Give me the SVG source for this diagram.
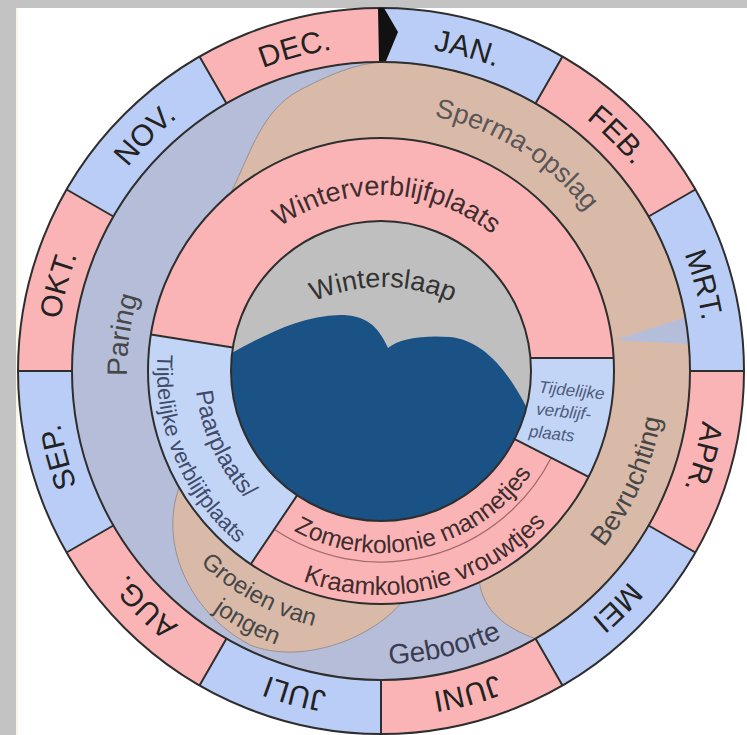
<svg xmlns="http://www.w3.org/2000/svg" width="747" height="735" viewBox="0 0 747 735">
<style>
text{font-family:"Liberation Sans",Arial,sans-serif;}
.mon{font-size:30px;fill:#222;}
.act{font-size:27px;fill:#474747;}
.inr{font-size:25px;fill:#3e2c2e;}
.blu{fill:#3f4b68;}
.ln{stroke:#2e2e2e;stroke-width:2;fill:none;}
.pink{fill:#fbb4b5;}
.mblue{fill:#bacdf6;}
.tan{fill:#d9baa9;stroke:#9c8f8d;stroke-width:1;}
</style>
<defs>
<path id="cw325" d="M381,696 A325,325 0 1 1 381,46 A325,325 0 1 1 381,696"/>
<path id="cw176" d="M381,547 A176,176 0 1 1 381,195 A176,176 0 1 1 381,547"/>
<path id="cw260" d="M381,631 A260,260 0 1 1 381,111 A260,260 0 1 1 381,631"/>
<path id="cw254" d="M381,625 A254,254 0 1 1 381,117 A254,254 0 1 1 381,625"/>
<path id="ccw284" d="M381,87 A284,284 0 1 0 381,655 A284,284 0 1 0 381,87"/>
<path id="ccw293" d="M381,78 A293,293 0 1 0 381,664 A293,293 0 1 0 381,78"/>
<path id="ccw264" d="M381,107 A264,264 0 1 0 381,635 A264,264 0 1 0 381,107"/>
<path id="ccw186" d="M381,185 A186,186 0 1 0 381,557 A186,186 0 1 0 381,185"/>
<path id="ccw224" d="M381,147 A224,224 0 1 0 381,595 A224,224 0 1 0 381,147"/>
<path id="ccw182" d="M381,189 A182,182 0 1 0 381,553 A182,182 0 1 0 381,189"/>
<path id="ws" d="M213,457 A170,170 0 0 1 553,457"/>
</defs>
<rect x="0" y="0" width="747" height="735" fill="#ffffff"/>
<rect x="0" y="0" width="747" height="8" fill="#c3c3c3"/>
<rect x="0" y="0" width="16" height="735" fill="#c3c3c3"/>
<rect x="16" y="8" width="2" height="727" fill="#fbf6e2"/>

<g id="month-ring">
<circle cx="381" cy="371" r="363" class="mblue"/>
<path class="pink" d="M562.5,56.6 A363,363 0 0 1 695.4,189.5 L648.6,216.5 A309,309 0 0 0 535.5,103.4 Z"/>
<path class="pink" d="M744,371 A363,363 0 0 1 695.4,552.5 L648.6,525.5 A309,309 0 0 0 690,371 Z"/>
<path class="pink" d="M562.5,685.4 A363,363 0 0 1 381,734 L381,680 A309,309 0 0 0 535.5,638.6 Z"/>
<path class="pink" d="M199.5,685.4 A363,363 0 0 1 66.6,552.5 L113.4,525.5 A309,309 0 0 0 226.5,638.6 Z"/>
<path class="pink" d="M18,371 A363,363 0 0 1 66.6,189.5 L113.4,216.5 A309,309 0 0 0 72,371 Z"/>
<path class="pink" d="M199.5,56.6 A363,363 0 0 1 381,8 L381,62 A309,309 0 0 0 226.5,103.4 Z"/>
</g>

<g id="activity-ring">
<circle cx="381" cy="371" r="309" fill="#b6bdd9"/>
<path id="sperma-bevruchting" class="tan" d="M231,192.5 C252,150 262,110 300,90 S360,64 381,62 A309,309 0 0 1 535.5,638.6 C505,628 483,610 479.5,582.2 A233,233 0 1 0 231,192.5 Z"/>
<path id="wedge" fill="#b4bdda" d="M615,340 L685.3,317.4 A309,309 0 0 1 688.8,344.1 Z"/>
<path id="groeien" class="tan" d="M179,488 C160,540 185,610 250,645 C300,665 370,640 401,603 A233,233 0 0 1 179,488 Z"/>
</g>

<g id="inner-ring">
<circle cx="381" cy="371" r="233" class="pink"/>
<path id="paarplaats" fill="#c3d5f7" d="M250.7,564.2 A233,233 0 0 1 150.9,334.6 L232.8,347.5 A150,150 0 0 0 297.1,495.4 Z"/>
<path id="tijdelijk" fill="#c3d5f7" d="M530.4,358 L613.6,358 A233,233 0 0 1 588.6,476.8 L514.7,439.1 A150,150 0 0 0 530.4,358 Z"/>
<path d="M551.1,458 A191,191 0 0 1 274.2,529.3" fill="none" stroke="#a46a6c" stroke-width="1.3"/>
</g>

<g id="core">
<circle cx="381" cy="371" r="150" fill="#bfbfbf"/>
<path fill="#1b5286" d="M232.1,352.7 C265,335 300,316 340,315 C365,315 378,325 388,348 C400,338 425,335 450,337 C480,340 505,365 526.5,407.3 A150,150 0 0 1 232.1,352.7 Z"/>
</g>

<g id="connectors">
<circle cx="381" cy="371" r="363" class="ln"/>
<circle cx="381" cy="371" r="309" class="ln"/>
<circle cx="381" cy="371" r="233" class="ln"/>
<circle cx="381" cy="371" r="150" class="ln"/>
<path class="ln" d="M381,8 L381,62 M562.5,56.6 L535.5,103.4 M695.4,189.5 L648.6,216.5 M744,371 L690,371 M695.4,552.5 L648.6,525.5 M562.5,685.4 L535.5,638.6 M381,734 L381,680 M199.5,685.4 L226.5,638.6 M66.6,552.5 L113.4,525.5 M18,371 L72,371 M66.6,189.5 L113.4,216.5 M199.5,56.6 L226.5,103.4"/>
<path class="ln" d="M150.9,334.6 L232.8,347.5 M530.4,358 L613.6,358 M514.7,439.1 L588.6,476.8 M297.1,495.4 L250.7,564.2"/>
<polygon points="378,8 384,8 398,32 386,61 379,61" fill="#111"/>
</g>

<g id="month-labels" class="mon">
<text><textPath href="#cw325" startOffset="54.1667%" text-anchor="middle">JAN.</textPath></text>
<text><textPath href="#cw325" startOffset="62.5%" text-anchor="middle">FEB.</textPath></text>
<text><textPath href="#cw325" startOffset="70.8333%" text-anchor="middle">MRT.</textPath></text>
<text><textPath href="#cw325" startOffset="79.1667%" text-anchor="middle">APR.</textPath></text>
<text><textPath href="#cw325" startOffset="87.5%" text-anchor="middle">MEI</textPath></text>
<text><textPath href="#cw325" startOffset="95.8333%" text-anchor="middle">JUNI</textPath></text>
<text><textPath href="#cw325" startOffset="4.1667%" text-anchor="middle">JULI</textPath></text>
<text><textPath href="#cw325" startOffset="12.5%" text-anchor="middle">AUG.</textPath></text>
<text><textPath href="#cw325" startOffset="20.8333%" text-anchor="middle">SEP.</textPath></text>
<text><textPath href="#cw325" startOffset="29.1667%" text-anchor="middle">OKT.</textPath></text>
<text><textPath href="#cw325" startOffset="37.5%" text-anchor="middle">NOV.</textPath></text>
<text><textPath href="#cw325" startOffset="45.8333%" text-anchor="middle">DEC.</textPath></text>
</g>

<g id="activity-labels" class="act">
<text style="fill:#5a5556"><textPath href="#cw260" startOffset="58.889%" text-anchor="middle">Sperma-opslag</textPath></text>
<text style="font-size:28px"><textPath href="#cw254" startOffset="27.222%" text-anchor="middle">Paring</textPath></text>
<text><textPath href="#ccw284" startOffset="68.333%" text-anchor="middle">Bevruchting</textPath></text>
<text style="font-size:28px;fill:#3a3d52"><textPath href="#ccw293" startOffset="53.611%" text-anchor="middle">Geboorte</textPath></text>
<text style="font-size:24px"><textPath href="#ccw264" startOffset="41.944%" text-anchor="middle">Groeien van</textPath></text>
<text style="font-size:24px"><textPath href="#ccw293" startOffset="42.222%" text-anchor="middle">jongen</textPath></text>
</g>

<g id="inner-labels">
<text class="inr" style="font-size:27px"><textPath href="#cw176" startOffset="50.556%" text-anchor="middle">Winterverblijfplaats</textPath></text>
<text class="inr blu" style="font-size:24px"><textPath href="#ccw186" startOffset="31.944%" text-anchor="middle">Paarplaats/</textPath></text>
<text class="inr blu" style="font-size:22px"><textPath href="#ccw224" startOffset="31.389%" text-anchor="middle">Tijdelijke verblijfplaats</textPath></text>
<text class="inr" style="font-size:24.5px"><textPath href="#ccw182" startOffset="53.778%" text-anchor="middle">Zomerkolonie mannetjes</textPath></text>
<text class="inr"><textPath href="#ccw224" startOffset="53.75%" text-anchor="middle">Kraamkolonie vrouwtjes</textPath></text>
<g transform="rotate(6 570 415)" style="font-size:17px;font-style:italic;fill:#4d5b7a">
<text x="536" y="396">Tijdelijke</text>
<text x="536" y="418">verblijf-</text>
<text x="531" y="441">plaats</text>
</g>
<text style="font-size:27px;fill:#333"><textPath href="#ws" startOffset="50%" text-anchor="middle">Winterslaap</textPath></text>
</g>
</svg>
